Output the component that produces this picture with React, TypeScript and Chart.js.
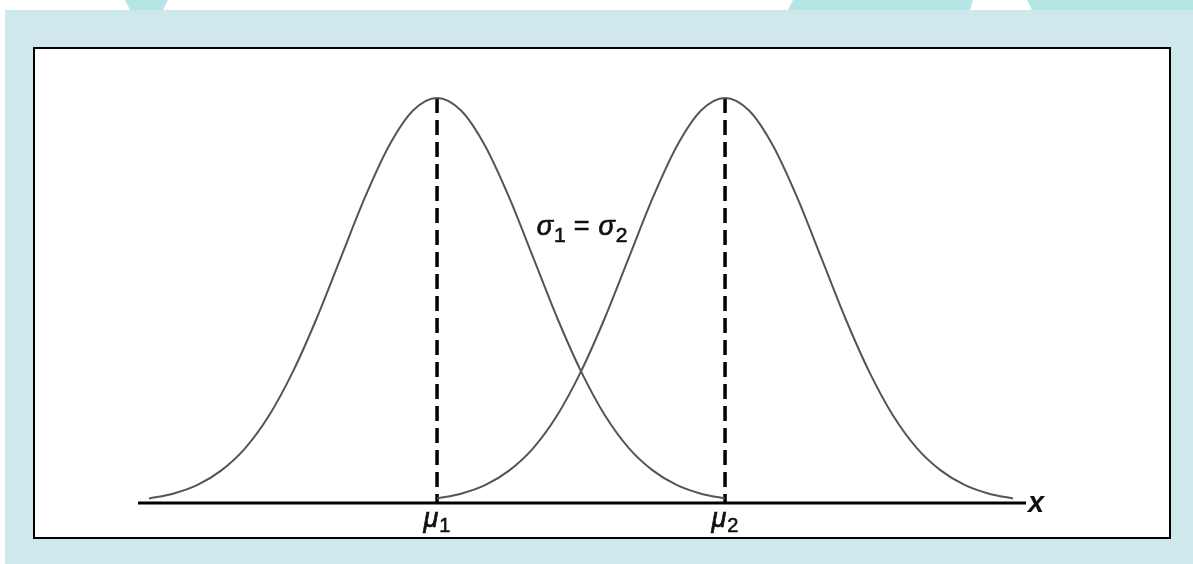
import React, { useEffect, useRef } from 'react';
import { Chart, registerables } from 'chart.js';

Chart.register(...registerables);

// Standardised offsets (in units of sigma) and the curve heights
const zValues = [-3, -2.75, -2.5, -2.25, -2, -1.75, -1.5, -1.25, -1, -0.75, -0.5, -0.25, 0,
  0.25, 0.5, 0.75, 1, 1.25, 1.5, 1.75, 2, 2.25, 2.5, 2.75, 3];
const density = [0.011, 0.023, 0.044, 0.08, 0.135, 0.216, 0.325, 0.458, 0.607, 0.755, 0.882, 0.969, 1.0,
  0.969, 0.882, 0.755, 0.607, 0.458, 0.325, 0.216, 0.135, 0.08, 0.044, 0.023, 0.011];
const means = [0, 3];
const meanLabels = ['μ', 'μ'];
const meanSubs = ['1', '2'];
const axisRange = [-3.115, 6.135];
const axisLabel = 'x';
const sigmaParts = ['σ', '1', '=', 'σ', '2'];

const FONT = '"Liberation Sans", Arial, Helvetica, sans-serif';

function drawText(ctx: any, t: string, x: number, y: number, stroke: number) {
  ctx.fillText(t, x, y);
  if (stroke > 0) {
    ctx.lineWidth = stroke;
    ctx.strokeText(t, x, y);
  }
}

const labelPlugin = {
  id: 'mathLabels',
  afterDatasetsDraw(chart: any) {
    const { ctx, scales } = chart;
    const xs = scales.x;
    const ys = scales.y;
    const y0 = ys.getPixelForValue(0);
    const yTop = ys.getPixelForValue(1);
    ctx.save();
    ctx.fillStyle = '#111';
    ctx.strokeStyle = '#111';
    ctx.lineJoin = 'round';
    ctx.textBaseline = 'alphabetic';
    ctx.textAlign = 'left';

    // mean labels
    means.forEach((m, i) => {
      const cx = xs.getPixelForValue(m);
      ctx.font = `italic 27px ${FONT}`;
      const w1 = ctx.measureText(meanLabels[i]).width;
      ctx.font = `20px ${FONT}`;
      const w2 = ctx.measureText(meanSubs[i]).width;
      const total = w1 + 1 + w2;
      const sx = cx - total / 2;
      ctx.font = `italic 27px ${FONT}`;
      drawText(ctx, meanLabels[i], sx, y0 + 24, 0.7);
      ctx.font = `20px ${FONT}`;
      drawText(ctx, meanSubs[i], sx + w1 + 1, y0 + 29, 0.6);
    });

    // sigma label
    const mid = xs.getPixelForValue((means[0] + means[1]) / 2) + 1;
    const base = yTop + 137;
    const fonts = [`italic 27px ${FONT}`, `21px ${FONT}`, `27px ${FONT}`, `italic 27px ${FONT}`, `21px ${FONT}`];
    const gapsBefore = [0, 1, 8, 9, 1];
    const dy = [0, 7, 0, 0, 7];
    const widths = sigmaParts.map((p, i) => {
      ctx.font = fonts[i];
      return ctx.measureText(p).width;
    });
    const total = widths.reduce((a, b) => a + b, 0) + gapsBefore.reduce((a, b) => a + b, 0);
    let px = mid - total / 2;
    sigmaParts.forEach((p, i) => {
      px += gapsBefore[i];
      ctx.font = fonts[i];
      drawText(ctx, p, px, base + dy[i], 0.7);
      px += widths[i];
    });

    // axis label
    ctx.font = `italic bold 29px ${FONT}`;
    drawText(ctx, axisLabel, xs.getPixelForValue(axisRange[1]) + 2, y0 + 9, 0);
    ctx.restore();
  },
};

function ChartCanvas() {
  const ref = useRef<HTMLCanvasElement | null>(null);
  useEffect(() => {
    if (!ref.current) return;
    const curve = (m: number) => zValues.map((z, i) => ({ x: m + z, y: density[i] }));
    const chart = new Chart(ref.current, {
      type: 'line',
      data: {
        datasets: [
          {
            data: curve(means[0]),
            borderColor: '#555',
            borderWidth: 2,
            pointRadius: 0,
            cubicInterpolationMode: 'monotone',
            fill: false,
            clip: false,
          } as any,
          {
            data: curve(means[1]),
            borderColor: '#555',
            borderWidth: 2,
            pointRadius: 0,
            cubicInterpolationMode: 'monotone',
            fill: false,
            clip: false,
          } as any,
          {
            data: [{ x: axisRange[0], y: 0 }, { x: axisRange[1], y: 0 }],
            borderColor: '#000',
            borderWidth: 3,
            pointRadius: 0,
            clip: false,
          } as any,
          ...means.map((m) => ({
            data: [{ x: m, y: 1 }, { x: m, y: 0 }],
            borderColor: '#000',
            borderWidth: 3.5,
            borderDash: [15, 7],
            pointRadius: 0,
            clip: false,
          } as any)),
        ],
      },
      options: {
        animation: false,
        responsive: false,
        maintainAspectRatio: false,
        layout: { padding: { left: 138, right: 167, top: 98, bottom: 61 } },
        plugins: { legend: { display: false }, tooltip: { enabled: false } },
        scales: {
          x: { type: 'linear', min: axisRange[0], max: axisRange[1], display: false },
          y: { type: 'linear', min: 0, max: 1, display: false },
        },
      },
      plugins: [labelPlugin],
    });
    return () => chart.destroy();
  }, []);
  return (
    <canvas
      ref={ref}
      width={1193}
      height={564}
      style={{ position: 'absolute', left: 0, top: 0, width: 1193, height: 564 }}
    />
  );
}

export default function App() {
  const shape = '#b6e5e5';
  return (
    <div style={{ position: 'fixed', left: 0, top: 0, width: 1193, height: 564, background: '#fff', overflow: 'hidden' }}>
      <div style={{ position: 'absolute', left: 0, top: 0, width: 1193, height: 10,
        background: shape, clipPath: 'polygon(125px 0, 168px 0, 163px 10px, 130px 10px)' }} />
      <div style={{ position: 'absolute', left: 0, top: 0, width: 1193, height: 10,
        background: shape, clipPath: 'polygon(793px 0, 973px 0, 970px 10px, 788px 10px)' }} />
      <div style={{ position: 'absolute', left: 0, top: 0, width: 1193, height: 10,
        background: shape, clipPath: 'polygon(1027px 0, 1193px 0, 1193px 10px, 1032px 10px)' }} />
      <div style={{ position: 'absolute', left: 5, top: 10, width: 1188, height: 554, background: '#cee8eb' }} />
      <div style={{ position: 'absolute', left: 33, top: 47, width: 1138, height: 492, boxSizing: 'border-box',
        border: '2px solid #000', background: '#fff' }} />
      <ChartCanvas />
    </div>
  );
}
